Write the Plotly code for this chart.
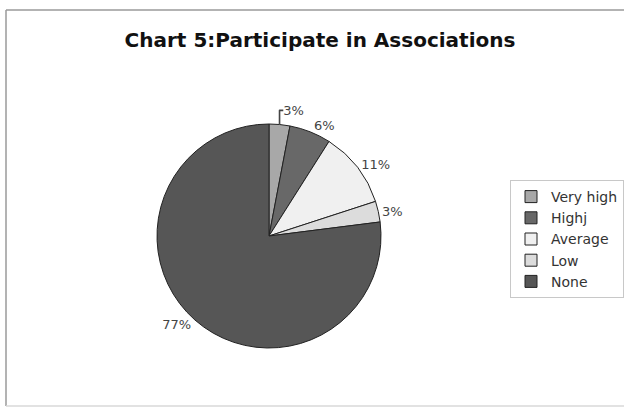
import plotly.graph_objects as go

# Survey shares of participation in associations
categories = ["Very high", "Highj", "Average", "Low", "None"]
shares = [3, 6, 11, 3, 77]
slice_colors = ["#a8a8a8", "#686868", "#f0f0f0", "#dcdcdc", "#565656"]

W, H = 624, 410

fig = go.Figure(
    go.Pie(
        labels=categories,
        values=shares,
        sort=False,
        direction="clockwise",
        rotation=0,
        marker=dict(colors=slice_colors, line=dict(color="#222222", width=1)),
        texttemplate="%{value}%",
        textposition="outside",
        textfont=dict(family="DejaVu Sans", size=13, color="#444444"),
        hoverinfo="label+percent",
        domain=dict(x=[157 / W, 381 / W], y=[1 - 348 / H, 1 - 124 / H]),
    )
)

# Frame around the chart area: top, left and bottom edges
frame = dict(type="line", xref="paper", yref="paper",
             line=dict(color="#9a9a9a", width=1.5), layer="below")

fig.update_layout(
    width=W,
    height=H,
    margin=dict(l=0, r=0, t=0, b=0),
    paper_bgcolor="white",
    title=dict(
        text="<b>Chart 5:Participate in Associations</b>",
        font=dict(family="DejaVu Sans", size=20, color="#111111"),
        x=320 / W,
        xanchor="center",
        y=1 - 40 / H,
        yanchor="middle",
    ),
    legend=dict(
        x=510 / W,
        xanchor="left",
        y=1 - 180 / H,
        yanchor="top",
        font=dict(family="DejaVu Sans", size=14, color="#333333"),
        bordercolor="#c8c8c8",
        borderwidth=1,
        bgcolor="white",
        tracegroupgap=0,
        itemwidth=30,
    ),
    showlegend=True,
    shapes=[
        dict(frame, x0=6 / W, x1=1, y0=1 - 10 / H, y1=1 - 10 / H),
        dict(frame, x0=6 / W, x1=6 / W, y0=1 - 10 / H, y1=1 - 406 / H),
        dict(frame, x0=6 / W, x1=1, y0=1 - 406 / H, y1=1 - 406 / H,
             line=dict(color="#d8d8d8", width=1.5)),
    ],
)

fig.write_html("out.html")
